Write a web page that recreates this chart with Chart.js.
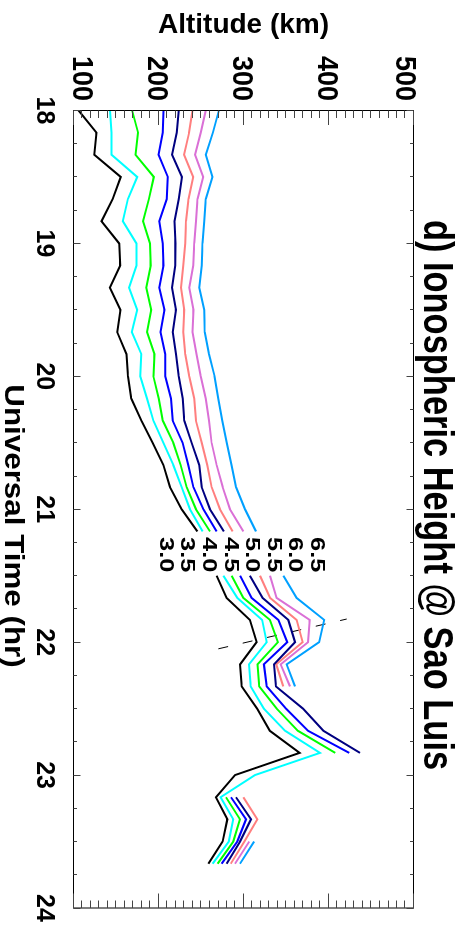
<!DOCTYPE html>
<html>
<head>
<meta charset="UTF-8">
<title>Ionospheric Height @ Sao Luis</title>
<script src="https://cdn.jsdelivr.net/npm/chart.js@4.4.1/dist/chart.umd.min.js"></script>
<style>
  html, body { margin: 0; padding: 0; background: #fff; overflow: hidden; }
  /* chart is drawn landscape, then turned a quarter clockwise like the original figure */
  #wrap { position: absolute; left: 0; top: 0; width: 928px; height: 468px;
          transform-origin: 0 0; transform: translate(468px, 0) rotate(90deg); }
</style>
</head>
<body>
<div id="wrap"><canvas id="c" width="928" height="468"></canvas></div>
<script>
// Universal time (hr), one sample every 10 min
const ut = [18.000, 18.167, 18.333, 18.500, 18.667, 18.833, 19.000, 19.167, 19.333, 19.500,
            19.667, 19.833, 20.000, 20.167, 20.333, 20.500, 20.667, 20.833, 21.000, 21.167,
            21.333, 21.500, 21.667, 21.833, 22.000, 22.167, 22.333, 22.500, 22.667, 22.833,
            23.000, 23.167, 23.333, 23.500, 23.667]

// heights (km) of each plasma frequency level (MHz)
const h30 = [106, 127, 124.5, 155.6, 146, 133, 153.7, 155, 142.8, 155.3,
             151.4, 162.3, 164, 168, 179.8, 193, 205.7, 213.5, 227.3, 245.7,
             null, 268.4, 280.2, 307.6, 315.5, 296, 298, 316, 331, 366,
             290, 267.6, 281, 275.5, 258.6]
const h35 = [142.8, 144.7, 144.7, 175, 164, 158, 174, 174, 165.4, 175,
             168.5, 179.8, 178.6, 186.4, 194, 205.7, 217.4, 227.2, 237, 252,
             null, 276.3, 292.7, 322, 327.3, 306.5, 308.5, 324, 349, 390,
             313.5, 273, 288, 282.6, 263.7]
const h40 = [169, 176, 173, 194.5, 188.7, 181.7, 190, 191, 185.6, 191.4,
             186.4, 195.3, 194, 200.4, 205, 217.4, 226, 233.1, 244.1, 260.6,
             null, 286, 299.8, 331.2, 340.5, 316.5, 318.5, 339, 364, 408,
             null, 279.4, 295.9, 288, 269.6]
const h45 = [205.8, 205, 200, 211, 209.7, 201, 205, 206, 201, 207,
             202.3, 208, 208, 214.8, 216.7, 228.4, 235.1, 241, 252.7, 268.4,
             null, 295.9, 309.6, 341, 351.5, 324, 327.3, 350, 376, 424.5,
             null, 285.3, 303, 292.7, 274.3]
const h50 = [223.7, 221.4, 216, 227.6, 223.7, 218.7, 220, 219.8, 216, 220.6,
             216.7, 220.6, 223.7, 228.4, 230.4, 239, 248, 250.8, 260.6, 277,
             null, 307.6, 322.5, 352.7, 360.6, 336, 338.2, 370, 394, 437,
             null, 291.2, 308.8, 295.9, 280.2]
const h55 = [240, 236, 230, 240.9, 235.4, 232.3, 231.5, 229, 226.5, 230.4,
             229, 231.5, 236.2, 242, 244, 250.8, 257.4, 262.5, 272.3, 287.2,
             null, 319.4, 331.2, 362.5, 369.6, 338.5, 346.8, null, null, null,
             null, 299.8, 316.3, 301, 285]
const h60 = [255.6, 249.8, 243, 252.5, 246, 244, 242, 240.9, 236.2, 241.2,
             240, 244.7, 249.8, 255.6, 259.5, 262.5, 268.4, 275.5, 284.1, 299.8,
             null, 331.2, 339, 378, 376, 343.7, 354.7, null, null, null,
             null, null, null, 306.8, 290]
const h65 = [271, 264, 255.6, 263.4, 255.6, 253.7, 251.8, 251, 247.9, 253.7,
             254.5, 259.5, 266, 270.4, 275, 280.2, 286, 291.2, 301.8, 314.7,
             null, 346.9, 362.5, 395, 389, 350.8, 360.6, null, null, null,
             null, null, null, 312.4, 295.9]

const levels = ['3.0', '3.5', '4.0', '4.5', '5.0', '5.5', '6.0', '6.5']
const series = [h30, h35, h40, h45, h50, h55, h60, h65]
const colors = ['#000000', '#00ffff', '#00ff00', '#0000ff', '#000080', '#ff7f7f', '#da70d6', '#00a0ff']

// dashed marker line
const dashUT = [22.05, 21.826]
const dashAlt = [270.4, 421.4]

const utTicks = [18, 19, 20, 21, 22, 23, 24]
const altTicks = [100, 200, 300, 400, 500]

const FONT = '"Liberation Sans", Arial, Helvetica, sans-serif'

function txt(ctx, s, x, y, size, sx, align, rot) {
    ctx.save()
    ctx.translate(x, y)
    if (rot) ctx.rotate(rot)
    ctx.scale(sx, 1)
    ctx.font = 'bold ' + size + 'px ' + FONT
    ctx.textAlign = align
    ctx.textBaseline = 'alphabetic'
    ctx.fillStyle = '#000'
    ctx.fillText(s, 0, 0)
    ctx.restore()
}

const axesPlugin = {
    id: 'idlAxes',
    afterDraw(chart) {
        const ctx = chart.ctx
        const a = chart.chartArea
        const xs = chart.scales.x, ys = chart.scales.y
        const snap = v => Math.round(v - 0.5) + 0.5

        ctx.save()
        ctx.strokeStyle = '#000'
        ctx.lineWidth = 1
        ctx.strokeRect(a.left, a.top, a.right - a.left, a.bottom - a.top)

        ctx.strokeStyle = '#444'
        ctx.beginPath()
        // time ticks, both edges, pointing in
        for (let i = 0; i <= 24; i++) {
            const v = 18 + i * 0.25
            const px = snap(xs.getPixelForValue(v))
            const len = i % 4 === 0 ? 7 : 3.5
            ctx.moveTo(px, a.bottom); ctx.lineTo(px, a.bottom - len)
            ctx.moveTo(px, a.top); ctx.lineTo(px, a.top + len)
        }
        // altitude ticks, both edges, pointing in
        for (let i = 0; i <= 40; i++) {
            const v = 100 + i * 10
            const py = snap(ys.getPixelForValue(v))
            const len = i % 10 === 0 ? 14.5 : 7.5
            ctx.moveTo(a.left, py); ctx.lineTo(a.left + len, py)
            ctx.moveTo(a.right, py); ctx.lineTo(a.right - len, py)
        }
        ctx.stroke()
        ctx.restore()

        // tick labels
        utTicks.forEach(v => txt(ctx, String(v), xs.getPixelForValue(v), 431, 25, 1, 'center'))
        altTicks.forEach((v, i) => {
            let cy = ys.getPixelForValue(v)
            if (i === 0) cy -= 10
            if (i === altTicks.length - 1) cy += 7
            txt(ctx, String(v), 101, cy + 10.5, 30, 0.9, 'right')
        })

        // axis titles and title
        txt(ctx, 'Altitude (km)', 33.3, (a.top + a.bottom) / 2, 28, 1, 'center', -Math.PI / 2)
        txt(ctx, 'Universal Time (hr)', 526, 463, 28, 1.12, 'center')
        txt(ctx, 'd) Ionospheric Height @ Sao Luis', 495, 44, 42, 0.82, 'center')

        // level labels, stacked block
        for (let i = 0; i < levels.length; i++) {
            const cy = 301 - 21.6 * (levels.length - 1 - i)
            txt(ctx, levels[levels.length - 1 - i], 537, cy + 7.2, 20, 1.27, 'left')
        }
    }
}

const datasets = series.map((s, i) => ({
    label: levels[i],
    data: ut.map((t, k) => ({ x: t, y: s[k] })),
    borderColor: colors[i],
    borderWidth: 2,
    pointRadius: 0,
    tension: 0,
    spanGaps: false
}))
datasets.push({
    label: 'marker',
    data: dashUT.map((t, k) => ({ x: t, y: dashAlt[k] })),
    borderColor: '#000',
    borderWidth: 1,
    borderDash: [10, 15],
    pointRadius: 0
})

new Chart(document.getElementById('c'), {
    type: 'line',
    data: { datasets },
    options: {
        responsive: false,
        animation: false,
        devicePixelRatio: 1,
        layout: { padding: { left: 110.5, right: 20, top: 54.5, bottom: 73.5 } },
        scales: {
            x: { type: 'linear', min: 18, max: 24, display: false },
            y: { type: 'linear', min: 100, max: 500, display: false }
        },
        plugins: { legend: { display: false }, tooltip: { enabled: false } }
    },
    plugins: [axesPlugin]
})
</script>
</body>
</html>
